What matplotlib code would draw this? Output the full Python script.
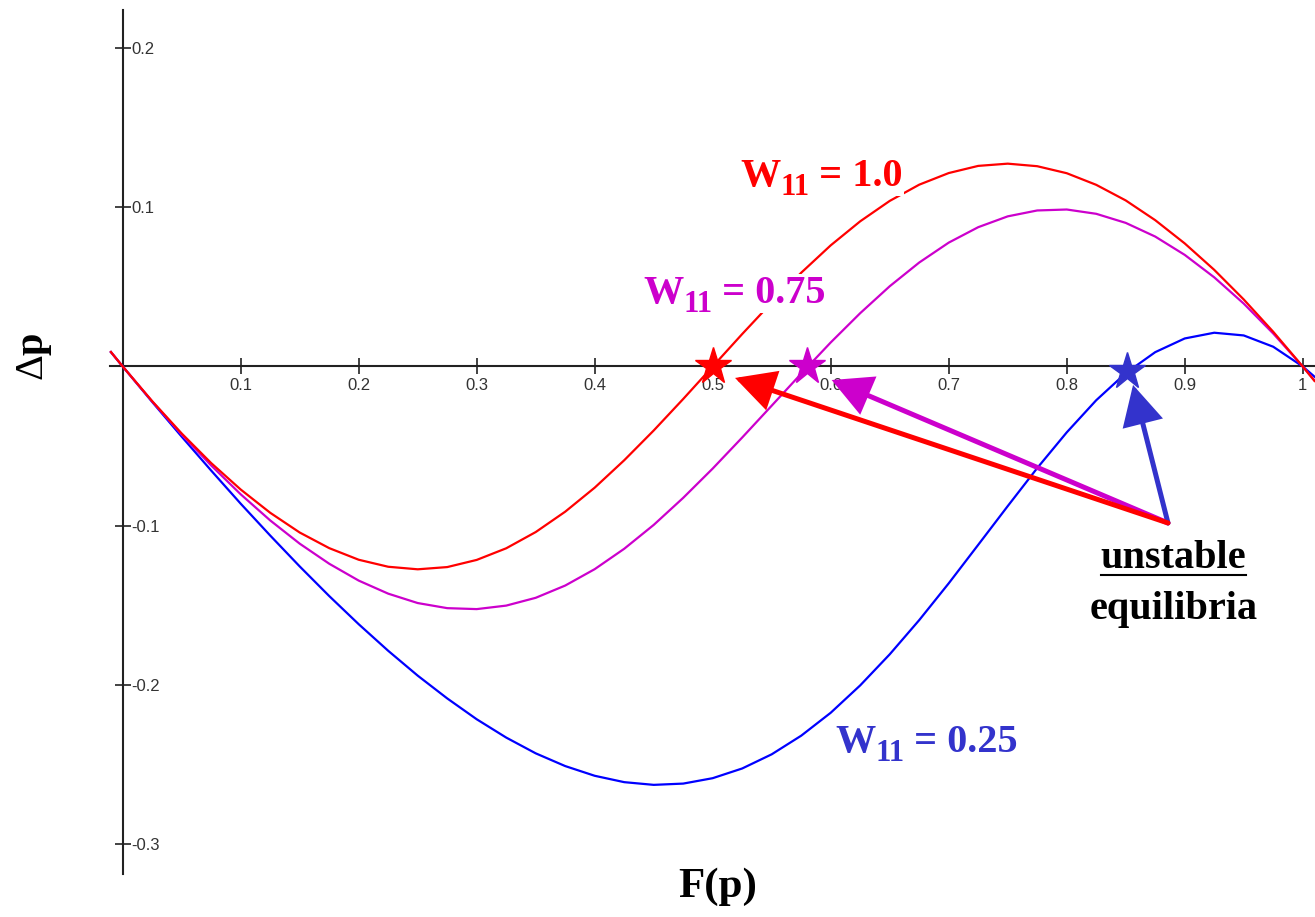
import matplotlib
matplotlib.use("Agg")
import matplotlib.pyplot as plt
from matplotlib.lines import Line2D
from matplotlib.transforms import IdentityTransform

plt.rcParams['mathtext.fontset'] = 'custom'
plt.rcParams['mathtext.rm'] = 'Liberation Serif'

# frequency values along the horizontal axis
p = [-0.01, 0.0, 0.025, 0.05, 0.075, 0.1, 0.125, 0.15, 0.175, 0.2, 0.225,
     0.25, 0.275, 0.3, 0.325, 0.35, 0.375, 0.4, 0.425, 0.45, 0.475, 0.5,
     0.525, 0.55, 0.575, 0.6, 0.625, 0.65, 0.675, 0.7, 0.725, 0.75, 0.775,
     0.8, 0.825, 0.85, 0.875, 0.9, 0.925, 0.95, 0.975, 1.0, 1.01]

# delta p for W11 = 1.0
dp_100 = [0.0091, 0.0, -0.0218, -0.0421, -0.0607, -0.0773, -0.0919, -0.1043,
          -0.1141, -0.1214, -0.1258, -0.1274, -0.1260, -0.1215, -0.1142,
          -0.1040, -0.0912, -0.0761, -0.0589, -0.0402, -0.0204, 0.0, 0.0204,
          0.0402, 0.0589, 0.0761, 0.0912, 0.1040, 0.1142, 0.1215, 0.1260,
          0.1274, 0.1258, 0.1214, 0.1141, 0.1043, 0.0919, 0.0773, 0.0607,
          0.0421, 0.0218, 0.0, -0.0091]

# delta p for W11 = 0.75
dp_075 = [0.0091, 0.0, -0.0220, -0.0428, -0.0622, -0.0803, -0.0967, -0.1113,
          -0.1239, -0.1345, -0.1427, -0.1486, -0.1518, -0.1524, -0.1502,
          -0.1453, -0.1376, -0.1273, -0.1145, -0.0995, -0.0825, -0.0641,
          -0.0446, -0.0246, -0.0045, 0.0151, 0.0335, 0.0504, 0.0653, 0.0778,
          0.0875, 0.0943, 0.0980, 0.0986, 0.0959, 0.0902, 0.0816, 0.0701,
          0.0560, 0.0395, 0.0207, 0.0, -0.0088]

# delta p for W11 = 0.25
dp_025 = [0.0090, 0.0, -0.0223, -0.0441, -0.0654, -0.0862, -0.1062, -0.1256,
          -0.1442, -0.1619, -0.1786, -0.1942, -0.2085, -0.2216, -0.2331,
          -0.2430, -0.2510, -0.2571, -0.2611, -0.2628, -0.2620, -0.2586,
          -0.2525, -0.2436, -0.2319, -0.2175, -0.2003, -0.1808, -0.1593,
          -0.1362, -0.1120, -0.0877, -0.0638, -0.0414, -0.0212, -0.0042,
          0.0090, 0.0176, 0.0212, 0.0195, 0.0124, 0.0, -0.0064]

# unstable equilibria (stars)
eq_x = [0.5, 0.58, 0.851]
eq_y = [0.0, 0.0, -0.003]

xtick_vals = [0.1, 0.2, 0.3, 0.4, 0.5, 0.6, 0.7, 0.8, 0.9, 1.0]
xtick_text = ['0.1', '0.2', '0.3', '0.4', '0.5', '0.6', '0.7', '0.8', '0.9', '1']
ytick_vals = [-0.3, -0.2, -0.1, 0.1, 0.2]
ytick_text = ['-0.3', '-0.2', '-0.1', '0.1', '0.2']

RED = '#ff0000'
MAG = '#cc00cc'
BLUE_LINE = '#0000ff'
BLUE = '#3333cc'
serif = 'Liberation Serif'

fig = plt.figure(figsize=(13.15, 9.17), dpi=100)
ax = fig.add_axes([0, 0, 1, 1])
ax.set_xlim(-0.104, 1.0104)
ax.set_ylim(-0.3458, 0.2302)

ax.plot(p, dp_025, color=BLUE_LINE, lw=1.6, zorder=2)
ax.plot(p, dp_075, color=MAG, lw=1.6, zorder=2)
ax.plot(p, dp_100, color=RED, lw=1.6, zorder=2)

# axes crossing at the origin
ax.spines['top'].set_visible(False)
ax.spines['left'].set_visible(False)
ax.spines['bottom'].set_position(('data', 0))
ax.spines['right'].set_position(('data', 0))
ax.spines['bottom'].set_bounds(-0.011, 1.0104)
ax.spines['right'].set_bounds(-0.319, 0.224)
for s in ('bottom', 'right'):
    ax.spines[s].set_linewidth(1.5)
    ax.spines[s].set_color('#222222')
    ax.spines[s].set_zorder(1)
ax.yaxis.set_ticks_position('right')
ax.set_xticks(xtick_vals, xtick_text)
ax.set_yticks(ytick_vals, ytick_text)
ax.tick_params(direction='inout', length=11, width=1.2, color='#222222',
               labelsize=12, labelcolor='#333333')
ax.tick_params(axis='x', pad=3)
ax.tick_params(axis='y', pad=1)
for lab in ax.get_xticklabels() + ax.get_yticklabels():
    lab.set_family('Liberation Sans')

# arrows to the unstable equilibria
tail = (0.8858, -0.0983)
arrows = [((0.6008, -0.0085), MAG), ((0.8562, -0.0116), BLUE), ((0.5189, -0.0072), RED)]
for tip, col in arrows:
    ax.annotate('', xy=tip, xytext=tail,
                arrowprops=dict(arrowstyle='-|>,head_length=1.15,head_width=0.6',
                                mutation_scale=20, lw=3.6, color=col,
                                shrinkA=0, shrinkB=0, joinstyle='miter'),
                zorder=5)

for x, y, col in zip(eq_x, eq_y, [RED, MAG, BLUE]):
    ax.plot(x, y, marker='*', ms=28, color=col, mec=col, zorder=6)

renderer = fig.canvas.get_renderer()
box = dict(facecolor='white', edgecolor='none', pad=1)


def w_label(x, y, value, col):
    # "W" + subscript "11" + " = value", all bold serif
    kw = dict(color=col, family=serif, fontweight='bold', ha='left',
              va='baseline', bbox=box, zorder=4)
    t1 = ax.text(x, y, 'W', fontsize=29, **kw)
    bx, by = ax.transData.transform((x, y))
    bb1 = t1.get_window_extent(renderer)
    t2 = ax.text(bb1.x1, by - 9, '11', fontsize=22,
                 transform=IdentityTransform(), **kw)
    bb2 = t2.get_window_extent(renderer)
    ax.text(bb2.x1, by, ' = ' + value, fontsize=29,
            transform=IdentityTransform(), **kw)


w_label(0.5231, 0.1134, '1.0', RED)
w_label(0.4409, 0.0399, '0.75', MAG)
w_label(0.6036, -0.2421, '0.25', BLUE)

t_unst = ax.text(0.8906, -0.1266, 'unstable', color='black', fontsize=29,
                 family=serif, fontweight='bold', ha='center', va='baseline')
ax.text(0.8906, -0.1588, 'equilibria', color='black', fontsize=29,
        family=serif, fontweight='bold', ha='center', va='baseline')

fig.text(35 / 1315, 1 - 357 / 917, r'$\Delta$p', rotation=90, fontsize=29,
         family=serif, fontweight='bold', ha='center', va='center')
fig.text(718 / 1315, 1 - 887 / 917, 'F(p)', fontsize=31,
         family=serif, fontweight='bold', ha='center', va='center')

# underline "unstable"
bb = t_unst.get_window_extent(renderer)
base_y = ax.transData.transform((0.8906, -0.1266))[1] - 7
fig.add_artist(Line2D([bb.x0, bb.x1], [base_y, base_y], color='black', lw=1.5,
                      transform=IdentityTransform()))

fig.savefig('out.png', dpi=100)
